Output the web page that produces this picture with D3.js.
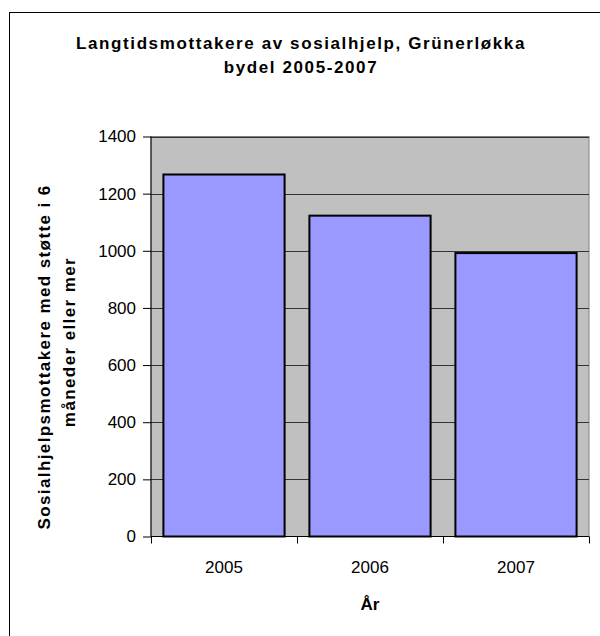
<html>
<meta charset="utf-8" />
<head>
<title>Langtidsmottakere av sosialhjelp</title>
<script src="https://cdn.jsdelivr.net/npm/d3@7/dist/d3.min.js"></script>
<style>
	body { margin: 0; background: white; }
	svg text { font-family: 'Liberation Sans', Arial, sans-serif; fill: black; }
</style>
<script>
// data
let years = ['2005', '2006', '2007'];
let mottakere = [1267, 1123, 992];
let yTicks = [0, 200, 400, 600, 800, 1000, 1200, 1400];
let titleLines = ['Langtidsmottakere av sosialhjelp, Grünerløkka', 'bydel 2005-2007'];
let yTitleLines = ['Sosialhjelpsmottakere med støtte i 6', 'måneder eller mer'];
let xTitle = 'År';

window.onload = function() {
	let svg = d3.select('svg');

	// ramme rundt hele diagrammet (bare venstre og topp synlig)
	svg.append('rect')
	.attr('x', 9.5).attr('y', 12.5)
	.attr('width', 700).attr('height', 700)
	.style('fill', 'white')
	.style('stroke', 'black')
	.style('stroke-width', '1px');

	let xScale = d3.scaleBand().domain(years).range([151, 589]).paddingInner(0.17).paddingOuter(0.085);
	let yScale = d3.scaleLinear().domain([0, 1400]).range([536.5, 136.5]);

	// plot bakgrunn
	svg.append('rect')
	.attr('x', 151).attr('y', yScale(1400))
	.attr('width', 589 - 151).attr('height', yScale(0) - yScale(1400))
	.style('fill', '#c0c0c0')
	.style('stroke', '#808080')
	.style('stroke-width', '1px');

	// gitterlinjer
	svg.append('g').selectAll('line.grid')
	.data(yTicks.slice(1)).enter()
	.append('line')
	.attr('class', 'grid')
	.attr('x1', 151).attr('x2', 589)
	.attr('y1', (d) => Math.round(yScale(d)) + 0.5)
	.attr('y2', (d) => Math.round(yScale(d)) + 0.5)
	.style('stroke', '#333')
	.style('stroke-width', '1px');

	// søyler
	svg.append('g').selectAll('rect.bar')
	.data(mottakere).enter()
	.append('rect')
	.attr('class', 'bar')
	.attr('x', (d, i) => xScale(years[i]))
	.attr('y', (d) => yScale(d))
	.attr('width', xScale.bandwidth())
	.attr('height', (d) => yScale(0) - yScale(d))
	.style('fill', '#9999ff')
	.style('stroke', 'black')
	.style('stroke-width', '2px');

	// y-akse
	let yAxis = d3.axisLeft(yScale).tickValues(yTicks).tickSize(8).tickPadding(7).tickFormat(d3.format('d'));
	let gy = svg.append('g').attr('transform', 'translate(151, 0)').call(yAxis);
	gy.selectAll('text').style('font-size', '17px');
	gy.selectAll('line, path').style('stroke', 'black');
	gy.select('path.domain').attr('d', 'M0,' + yScale(0) + 'V' + yScale(1400));

	// x-akse med tikk på kategorigrensene
	let gx = svg.append('g').attr('transform', 'translate(0, ' + yScale(0) + ')');
	gx.append('line')
	.attr('x1', 151).attr('x2', 589).attr('y1', 0).attr('y2', 0)
	.style('stroke', 'black').style('stroke-width', '1px');
	let grenser = [151].concat(years.map((d) => xScale(d) + xScale.bandwidth() + xScale.step() * xScale.paddingInner() / 2));
	grenser[grenser.length - 1] = 589;
	gx.selectAll('line.tick')
	.data(grenser).enter()
	.append('line')
	.attr('x1', (d) => Math.round(d) + 0.5).attr('x2', (d) => Math.round(d) + 0.5)
	.attr('y1', 0).attr('y2', 7)
	.style('stroke', 'black');
	gx.selectAll('text')
	.data(years).enter()
	.append('text')
	.attr('x', (d) => xScale(d) + xScale.bandwidth() / 2)
	.attr('y', 36)
	.attr('text-anchor', 'middle')
	.style('font-size', '17px')
	.text((d) => d);

	// titler
	svg.selectAll('text.title')
	.data(titleLines).enter()
	.append('text')
	.attr('class', 'title')
	.attr('x', 301)
	.attr('y', (d, i) => 49 + i * 24)
	.attr('text-anchor', 'middle')
	.style('font-size', '17px')
	.style('font-weight', 'bold')
	.style('letter-spacing', '1.6px')
	.text((d) => d);

	svg.append('text')
	.attr('x', 370).attr('y', 610)
	.attr('text-anchor', 'middle')
	.style('font-size', '17px')
	.style('font-weight', 'bold')
	.text(xTitle);

	let ySentrum = [357, 342];
	svg.selectAll('text.ytitle')
	.data(yTitleLines).enter()
	.append('text')
	.attr('class', 'ytitle')
	.attr('transform', (d, i) => 'translate(' + (50 + i * 25) + ', ' + ySentrum[i] + ') rotate(-90)')
	.attr('text-anchor', 'middle')
	.style('font-size', '17px')
	.style('font-weight', 'bold')
	.style('letter-spacing', '1.4px')
	.text((d) => d);
}
</script>
</head>
<body>
<svg style="width:600px; height:636px; display:block"></svg>
</body>
</html>
